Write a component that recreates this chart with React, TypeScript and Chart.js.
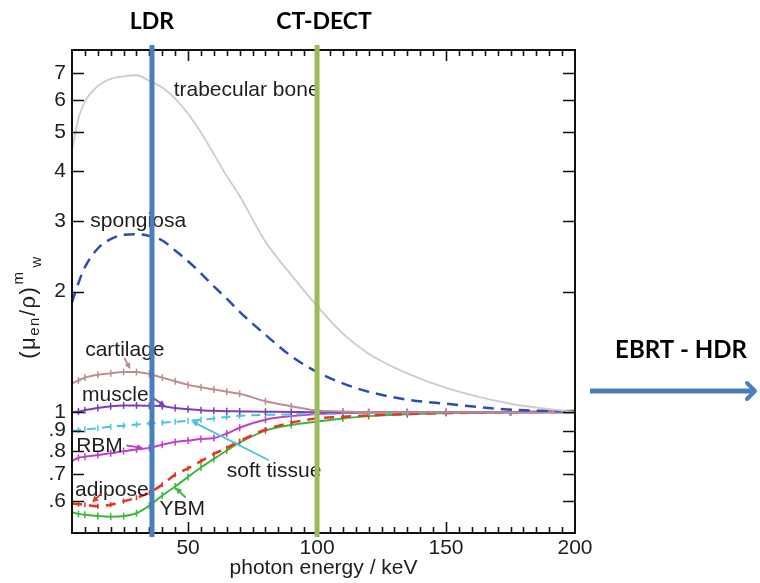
import React, { useEffect, useRef } from 'react';
import { Chart, registerables } from 'chart.js';

Chart.register(...registerables);

// ---------------- data ----------------
const ENERGY = [5, 7.5, 10, 15, 20, 25, 30, 35, 40, 45, 50, 55, 60, 65, 70, 80, 90, 100, 110, 120, 135, 150, 175, 200];
const TRABECULAR_BONE = [4.5, 5.4, 5.95, 6.5, 6.78, 6.88, 6.92, 6.7, 6.45, 6.05, 5.55, 4.98, 4.4, 3.88, 3.46, 2.66, 2.2, 1.84, 1.57, 1.4, 1.25, 1.15, 1.05, 1.0];
const SPONGIOSA = [1.88, 2.1, 2.3, 2.56, 2.7, 2.77, 2.78, 2.75, 2.68, 2.53, 2.38, 2.22, 2.06, 1.92, 1.78, 1.56, 1.38, 1.26, 1.18, 1.125, 1.075, 1.05, 1.015, 1.005];
const CARTILAGE = [1.18, 1.2, 1.22, 1.24, 1.25, 1.26, 1.26, 1.245, 1.22, 1.195, 1.17, 1.155, 1.14, 1.125, 1.112, 1.065, 1.035, 1.01, 1.005, 1.0, 1.0, 1.0, 1.0, 1.0];
const MUSCLE = [1.0, 1.005, 1.012, 1.025, 1.035, 1.04, 1.04, 1.038, 1.035, 1.025, 1.018, 1.012, 1.008, 1.006, 1.005, 1.003, 1.002, 1.0, 1.0, 1.0, 1.0, 1.0, 1.0, 1.0];
const SOFT_TISSUE = [0.898, 0.902, 0.906, 0.912, 0.92, 0.926, 0.932, 0.937, 0.942, 0.947, 0.952, 0.958, 0.965, 0.973, 0.98, 0.985, 0.988, 0.992, 0.996, 0.998, 1.0, 1.0, 1.0, 1.0];
const RBM = [0.755, 0.77, 0.775, 0.782, 0.79, 0.8, 0.808, 0.815, 0.83, 0.843, 0.85, 0.858, 0.862, 0.885, 0.915, 0.958, 0.978, 0.99, 0.995, 0.998, 1.0, 1.0, 1.0, 1.0];
const ADIPOSE = [0.592, 0.59, 0.588, 0.583, 0.588, 0.6, 0.612, 0.63, 0.66, 0.699, 0.725, 0.755, 0.787, 0.815, 0.848, 0.905, 0.942, 0.965, 0.975, 0.982, 0.99, 0.995, 1.0, 1.005];
const YBM = [0.563, 0.558, 0.555, 0.551, 0.549, 0.551, 0.56, 0.585, 0.62, 0.653, 0.69, 0.728, 0.765, 0.803, 0.84, 0.9, 0.93, 0.948, 0.965, 0.978, 0.988, 0.995, 1.0, 1.01];

const X_MIN = 5;
const X_MAX = 200;
const X_TICKS = [50, 100, 150, 200];
const X_TICK_LABELS = ['50', '100', '150', '200'];
const X_MINOR_STEP = 5;
const Y_MIN = 0.5;
const Y_MAX = 8;
const Y_TICKS = [0.6, 0.7, 0.8, 0.9, 1, 2, 3, 4, 5, 6, 7];
const Y_TICK_LABELS = ['.6', '.7', '.8', '.9', '1', '2', '3', '4', '5', '6', '7'];

const X_TITLE = 'photon energy / keV';

// curve labels: [text, energy, value]
const LABEL_TEXT = ['trabecular bone', 'spongiosa', 'cartilage', 'muscle', 'RBM', 'adipose', 'YBM', 'soft tissue'];
const LABEL_E = [44.4, 12.1, 10.1, 8.9, 6.6, 6.2, 38.9, 65];
const LABEL_V = [6.34, 3.0, 1.43, 1.105, 0.822, 0.64, 0.572, 0.712];

// pointer arrows: tail (e, v) -> head (e, v)
const ARROW_TAIL_E = [25.3, 35.4, 26.1, 16.3, 49.0, 81.3];
const ARROW_TAIL_V = [1.365, 1.096, 0.827, 0.627, 0.613, 0.759];
const ARROW_HEAD_E = [27.6, 41.2, 32.7, 12.8, 45.1, 51.4];
const ARROW_HEAD_V = [1.28, 1.035, 0.813, 0.596, 0.649, 0.95];
const ARROW_COLOR = ['#b98d8d', '#7b3db8', '#c23fc2', '#e8341f', '#3cb83c', '#4cc3dc'];

// marker lines
const LINE_LABELS = ['LDR', 'CT-DECT'];
const LINE_ENERGY = [36, 100];
const LINE_COLORS = ['#4a7ebb', '#9bbb59'];
const SIDE_LABEL = 'EBRT - HDR';

const SERIES = [
  { label: 'trabecular bone', data: TRABECULAR_BONE, color: '#cccccc', width: 1.8, dash: [] as number[], marker: 0 },
  { label: 'spongiosa', data: SPONGIOSA, color: '#2a4db5', width: 2.5, dash: [11, 7], marker: 0 },
  { label: 'cartilage', data: CARTILAGE, color: '#bb8f8f', width: 2, dash: [] as number[], marker: 3.5 },
  { label: 'muscle', data: MUSCLE, color: '#7b3db8', width: 2, dash: [] as number[], marker: 3.5 },
  { label: 'soft tissue', data: SOFT_TISSUE, color: '#4cc3dc', width: 2, dash: [9, 6], marker: 3 },
  { label: 'RBM', data: RBM, color: '#c23fc2', width: 2, dash: [] as number[], marker: 3.5 },
  { label: 'adipose', data: ADIPOSE, color: '#e8341f', width: 2.5, dash: [10, 7], marker: 2.5 },
  { label: 'YBM', data: YBM, color: '#3cb83c', width: 2, dash: [] as number[], marker: 3.5 },
];

const FONT = '"Liberation Sans", Arial, sans-serif';
const BOLD_FONT = 'Lato, "Open Sans", sans-serif';
const TEXT_COLOR = '#1e1e1e';

function arrow(ctx: CanvasRenderingContext2D, x1: number, y1: number, x2: number, y2: number, color: string) {
  const ang = Math.atan2(y2 - y1, x2 - x1);
  const hl = 7;
  ctx.strokeStyle = color;
  ctx.fillStyle = color;
  ctx.lineWidth = 1.8;
  ctx.setLineDash([]);
  ctx.beginPath();
  ctx.moveTo(x1, y1);
  ctx.lineTo(x2 - Math.cos(ang) * hl * 0.7, y2 - Math.sin(ang) * hl * 0.7);
  ctx.stroke();
  ctx.beginPath();
  ctx.moveTo(x2, y2);
  ctx.lineTo(x2 - hl * Math.cos(ang - 0.45), y2 - hl * Math.sin(ang - 0.45));
  ctx.lineTo(x2 - hl * Math.cos(ang + 0.45), y2 - hl * Math.sin(ang + 0.45));
  ctx.closePath();
  ctx.fill();
}

const overlay = {
  id: 'overlay',
  afterDatasetsDraw(chart: any) {
    const { ctx, chartArea: a, scales } = chart;
    const xs = scales.x;
    const ys = scales.y;
    ctx.save();
    // frame
    ctx.strokeStyle = '#111';
    ctx.lineWidth = 2;
    ctx.setLineDash([]);
    ctx.strokeRect(a.left, a.top, a.right - a.left, a.bottom - a.top);
    // x ticks (inward, bottom and top)
    ctx.lineWidth = 1.6;
    ctx.beginPath();
    for (let e = X_MIN + X_MINOR_STEP; e < X_MAX; e += X_MINOR_STEP) {
      const px = Math.round(xs.getPixelForValue(e)) + 0.5;
      const len = X_TICKS.includes(e) ? 11 : 6;
      ctx.moveTo(px, a.bottom);
      ctx.lineTo(px, a.bottom - len);
      ctx.moveTo(px, a.top);
      ctx.lineTo(px, a.top + len);
    }
    // y ticks (inward, left and right)
    Y_TICKS.forEach((v) => {
      const py = Math.round(ys.getPixelForValue(v)) + 0.5;
      ctx.moveTo(a.left, py);
      ctx.lineTo(a.left + 12, py);
      ctx.moveTo(a.right, py);
      ctx.lineTo(a.right - 12, py);
    });
    ctx.stroke();

    // curve labels
    ctx.fillStyle = TEXT_COLOR;
    ctx.font = `21px ${FONT}`;
    ctx.textAlign = 'left';
    ctx.textBaseline = 'middle';
    LABEL_TEXT.forEach((t, i) => {
      ctx.fillText(t, xs.getPixelForValue(LABEL_E[i]), ys.getPixelForValue(LABEL_V[i]));
    });
    // arrows
    ARROW_COLOR.forEach((c, i) => {
      arrow(
        ctx,
        xs.getPixelForValue(ARROW_TAIL_E[i]),
        ys.getPixelForValue(ARROW_TAIL_V[i]),
        xs.getPixelForValue(ARROW_HEAD_E[i]),
        ys.getPixelForValue(ARROW_HEAD_V[i]),
        c
      );
    });
    ctx.restore();
  },
  afterDraw(chart: any) {
    const { ctx, chartArea: a, scales } = chart;
    const xs = scales.x;
    ctx.save();
    // vertical marker lines with their labels
    LINE_ENERGY.forEach((e, i) => {
      const px = xs.getPixelForValue(e);
      ctx.fillStyle = LINE_COLORS[i];
      ctx.fillRect(px - 2.5, a.top - 5, 5, a.bottom - a.top + 9);
      ctx.fillStyle = '#000';
      ctx.font = `bold 23px ${BOLD_FONT}`;
      ctx.textAlign = 'center';
      ctx.textBaseline = 'middle';
      ctx.fillText(LINE_LABELS[i], px + (i === 1 ? 7 : 0), 22);
    });
    // side label and arrow
    ctx.fillStyle = '#000';
    ctx.font = `bold 24px ${BOLD_FONT}`;
    ctx.textAlign = 'center';
    ctx.textBaseline = 'middle';
    ctx.fillText(SIDE_LABEL, 681, 350);
    ctx.strokeStyle = '#4a7ebb';
    ctx.lineWidth = 5;
    ctx.beginPath();
    ctx.moveTo(590, 391);
    ctx.lineTo(753, 391);
    ctx.stroke();
    ctx.lineWidth = 4;
    ctx.lineJoin = 'round';
    ctx.lineCap = 'round';
    ctx.beginPath();
    ctx.moveTo(747, 383);
    ctx.lineTo(755, 391);
    ctx.lineTo(747, 399);
    ctx.stroke();

    // y axis title (μen/ρ)^m_w, rotated, drawn glyph by glyph with slight spacing
    ctx.translate(29, 307);
    ctx.rotate(-Math.PI / 2);
    ctx.fillStyle = TEXT_COLOR;
    ctx.textAlign = 'left';
    ctx.textBaseline = 'middle';
    const big = `22px ${FONT}`;
    const small = `15px ${FONT}`;
    const gap = 1.5;
    const parts = [
      { t: '(\u03bc', f: big, dy: 0, dx: 0 },
      { t: 'en', f: small, dy: 6, dx: 0 },
      { t: '/\u03c1)', f: big, dy: 0, dx: 0 },
      { t: 'm', f: small, dy: -10, dx: 1 },
      { t: 'w', f: small, dy: 8, dx: 3 },
    ];
    const widthOf = (p: any) => {
      ctx.font = p.f;
      let w = 0;
      for (const ch of p.t) w += ctx.measureText(ch).width + gap;
      return w;
    };
    let total = 0;
    parts.forEach((p) => {
      total += widthOf(p) + p.dx;
    });
    let cx = -total / 2;
    parts.forEach((p) => {
      ctx.font = p.f;
      cx += p.dx;
      for (const ch of p.t) {
        ctx.fillText(ch, cx, p.dy);
        cx += ctx.measureText(ch).width + gap;
      }
    });
    ctx.restore();
  },
};

export default function App() {
  const ref = useRef<HTMLCanvasElement>(null);
  useEffect(() => {
    document.body.style.margin = '0';
    const canvas = ref.current;
    if (!canvas) return;
    const chart = new Chart(canvas, {
      type: 'line',
      data: {
        datasets: SERIES.map((s) => ({
          label: s.label,
          data: ENERGY.map((e, i) => ({ x: e, y: s.data[i] })),
          borderColor: s.color,
          backgroundColor: s.color,
          borderWidth: s.width,
          borderDash: s.dash,
          fill: false,
          cubicInterpolationMode: 'monotone' as const,
          pointStyle: 'line' as const,
          pointRotation: 90,
          pointRadius: s.marker,
          pointBorderWidth: 1.5,
          pointBorderColor: s.color,
          pointHoverRadius: 0,
        })),
      },
      options: {
        responsive: false,
        animation: false,
        devicePixelRatio: 1,
        layout: { padding: { left: 0, right: 185, top: 50, bottom: 0 } },
        plugins: { legend: { display: false }, tooltip: { enabled: false } },
        events: [],
        scales: {
          x: {
            type: 'linear',
            min: X_MIN,
            max: X_MAX,
            afterBuildTicks: (s: any) => {
              s.ticks = X_TICKS.map((v) => ({ value: v }));
            },
            afterFit: (s: any) => {
              s.height = 50;
            },
            grid: { display: false, drawTicks: false },
            border: { display: false },
            ticks: {
              autoSkip: false,
              maxRotation: 0,
              padding: 3,
              color: TEXT_COLOR,
              font: { family: FONT, size: 21 },
              callback: (v: any) => X_TICK_LABELS[X_TICKS.indexOf(Number(v))],
            },
            title: {
              display: true,
              text: X_TITLE,
              color: TEXT_COLOR,
              font: { family: FONT, size: 21 },
              padding: { top: 0, bottom: 2 },
            },
          },
          y: {
            type: 'logarithmic',
            min: Y_MIN,
            max: Y_MAX,
            afterBuildTicks: (s: any) => {
              s.ticks = Y_TICKS.map((v) => ({ value: v }));
            },
            afterFit: (s: any) => {
              s.width = 72;
            },
            grid: { display: false, drawTicks: false },
            border: { display: false },
            ticks: {
              autoSkip: false,
              padding: 6,
              color: TEXT_COLOR,
              font: { family: FONT, size: 21 },
              callback: (v: any, i: number) => Y_TICK_LABELS[i],
            },
          },
        },
      },
      plugins: [overlay],
    });
    return () => chart.destroy();
  }, []);
  return <canvas ref={ref} width={760} height={583} style={{ display: 'block' }} />;
}
